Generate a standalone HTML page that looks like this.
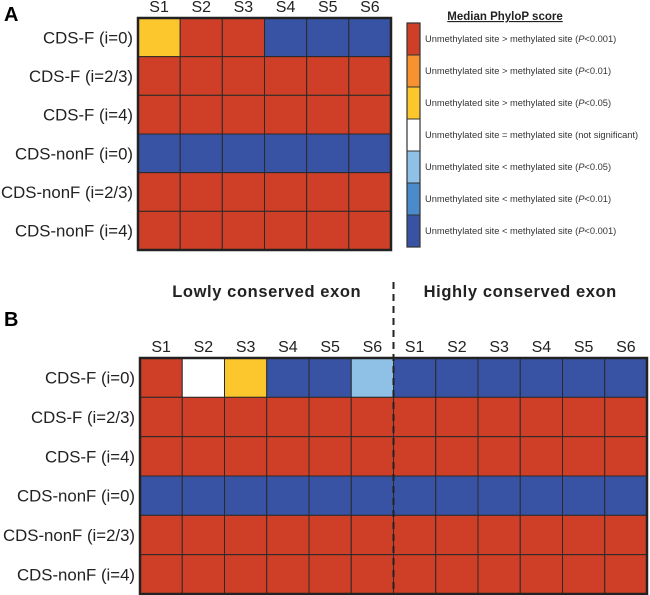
<!DOCTYPE html>
<html><head><meta charset="utf-8"><style>
body{margin:0;background:#fff;}
svg{display:block;font-family:"Liberation Sans",Arial,sans-serif;}
</style></head><body>
<svg id="c" width="650" height="595"></svg>
<script>
const colors=["#cf3e26","#f6922f","#fcc72c","#ffffff","#8fc1e6","#4a8ccb","#3953a4"];
const legendLabels=[["Unmethylated site > methylated site (","P","<0.001)"],["Unmethylated site > methylated site (","P","<0.01)"],["Unmethylated site > methylated site (","P","<0.05)"],["Unmethylated site = methylated site (not significant)","",""],["Unmethylated site < methylated site (","P","<0.05)"],["Unmethylated site < methylated site (","P","<0.01)"],["Unmethylated site < methylated site (","P","<0.001)"]];
const rowLabels=["CDS-F (i=0)","CDS-F (i=2/3)","CDS-F (i=4)","CDS-nonF (i=0)","CDS-nonF (i=2/3)","CDS-nonF (i=4)"];
const colLabelsA=["S1","S2","S3","S4","S5","S6"];
const colLabelsB=["S1","S2","S3","S4","S5","S6","S1","S2","S3","S4","S5","S6"];
// category index into colors (0=red ... 6=dark blue)
const valuesA=[[2,0,0,6,6,6],[0,0,0,0,0,0],[0,0,0,0,0,0],[6,6,6,6,6,6],[0,0,0,0,0,0],[0,0,0,0,0,0]];
const valuesB=[[0,3,2,6,6,4,6,6,6,6,6,6],[0,0,0,0,0,0,0,0,0,0,0,0],[0,0,0,0,0,0,0,0,0,0,0,0],[6,6,6,6,6,6,6,6,6,6,6,6],[0,0,0,0,0,0,0,0,0,0,0,0],[0,0,0,0,0,0,0,0,0,0,0,0]];
const groupLabels=["Lowly conserved exon","Highly conserved exon"];

const svg=document.getElementById('c');const NS="http://www.w3.org/2000/svg";
function el(t,a,p){const e=document.createElementNS(NS,t);for(const k in a)e.setAttribute(k,a[k]);(p||svg).appendChild(e);return e;}
function txt(s,a,p){const e=el('text',a,p);e.textContent=s;return e;}

function heat(name,x0,y0,w,h,vals,cols){
  const g=el('g',{});
  
  
  const nr=vals.length,nc=cols.length,cw=w/nc,rh=h/nr;
  const xs=i=>x0+i*cw, ys=j=>y0+j*rh;
  vals.forEach((row,j)=>row.forEach((v,i)=>{
    const r=el('rect',{x:xs(i),y:ys(j),width:cw,height:rh,fill:colors[v],stroke:"#2a2a2a","stroke-width":1},g);
    
    
  }));
  const b=el('rect',{x:x0,y:y0,width:w,height:h,fill:"none",stroke:"#222","stroke-width":2.5},g);
  
  
  cols.forEach((c,i)=>{const t=txt(c,{x:xs(i)+cw/2,y:y0-6,"text-anchor":"middle","font-size":16,fill:"#222"},g);
    
    });
  rowLabels.forEach((c,j)=>{const t=txt(c,{x:x0-5,y:ys(j)+rh/2+6,"text-anchor":"end","font-size":16.8,fill:"#222"},g);
    
    });
  return {xs,cw};
}
let t=txt("A",{x:4,y:21,"font-size":20,"font-weight":"bold"});

t=txt("B",{x:4,y:326,"font-size":20,"font-weight":"bold"});


heat('heatmap-a',138,18,253,232,valuesA,colLabelsA);
const hb=heat('heatmap-b',140,358,507,236,valuesB,colLabelsB);
const mid=hb.xs(6);
const dl=el('line',{x1:mid,y1:282,x2:mid,y2:594,stroke:"#222","stroke-width":2,"stroke-dasharray":"7,5"});

groupLabels.forEach((g,i)=>{const t=txt(g,{x:hb.xs(i*6)+hb.cw*3,y:297,"text-anchor":"middle","font-size":16.5,"font-weight":"bold",fill:"#222","letter-spacing":"0.6"});
  });

// legend
const lg=el('g',{});

t=txt("Median PhyloP score",{x:505,y:20,"text-anchor":"middle","font-size":11.5,"font-weight":"bold","text-decoration":"underline",fill:"#222"},lg);

const ly0=23,lh=32;
colors.forEach((c,i)=>{
  const r=el('rect',{x:407,y:ly0+i*lh,width:13,height:lh,fill:c,stroke:"#333","stroke-width":1},lg);
  
  const tt=el('text',{x:425,y:ly0+i*lh+lh/2+3,"font-size":9.3,fill:"#333"},lg);
  
  const L=legendLabels[i];
  const a=document.createElementNS(NS,'tspan');a.textContent=L[0];tt.appendChild(a);
  if(L[1]){const b=document.createElementNS(NS,'tspan');b.setAttribute('font-style','italic');b.textContent=L[1];tt.appendChild(b);
   const d=document.createElementNS(NS,'tspan');d.textContent=L[2];tt.appendChild(d);}
});
el('rect',{x:407,y:ly0,width:13,height:lh*7,fill:"none",stroke:"#333","stroke-width":1.2},lg);
</script>
</body></html>
